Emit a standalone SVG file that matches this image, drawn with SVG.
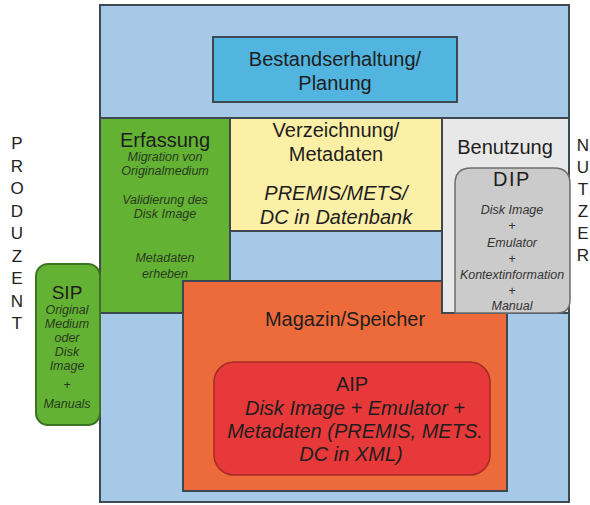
<svg xmlns="http://www.w3.org/2000/svg" width="590" height="505" viewBox="0 0 590 505">
<style>
text{font-family:"Liberation Sans",Arial,sans-serif;fill:#1e1e1e;text-anchor:middle}
.lbl{font-size:20px}
.it{font-style:italic}
.sm{font-size:12.5px;font-style:italic;fill:#2a3a20}
.dsm{font-size:12.5px;font-style:italic;fill:#333}
.side{font-size:17px;fill:#222}
.box{stroke:#3d4850;stroke-width:2}
</style>
<rect width="590" height="505" fill="#ffffff"/>
<g id="outer"><rect class="box" x="100" y="5" width="469" height="497" fill="#a6c9e8"/></g>
<g id="bestandserhaltung">
<rect class="box" x="213" y="37" width="244" height="65" fill="#52b5df"/>
<text class="lbl" x="335" y="66">Bestandserhaltung/</text>
<text class="lbl" x="335" y="90">Planung</text>
</g>
<g id="erfassung">
<rect class="box" x="100" y="118" width="130" height="195" fill="#63b233"/>
<text class="lbl" x="165" y="147">Erfassung</text>
<text class="sm" x="165" y="161">Migration von</text>
<text class="sm" x="165" y="175">Originalmedium</text>
<text class="sm" x="165" y="204">Validierung des</text>
<text class="sm" x="165" y="218">Disk Image</text>
<text class="sm" x="165" y="262">Metadaten</text>
<text class="sm" x="165" y="278">erheben</text>
</g>
<g id="verzeichnung">
<rect class="box" x="230" y="118" width="212" height="113" fill="#fcefa6"/>
<text class="lbl" x="336" y="137">Verzeichnung/</text>
<text class="lbl" x="336" y="161">Metadaten</text>
<text class="lbl it" x="336" y="200">PREMIS/METS/</text>
<text class="lbl it" x="336" y="224">DC in Datenbank</text>
</g>
<g id="magazin">
<rect class="box" x="183" y="281" width="324" height="210" fill="#ed6a3a"/>
<text class="lbl" x="345" y="326">Magazin/Speicher</text>
</g>
<g id="benutzung">
<rect class="box" x="442" y="118" width="127" height="195" fill="#e8e8e8"/>
<text class="lbl" x="505" y="154">Benutzung</text>
</g>
<g id="dip">
<path d="M455 313 V184 Q455 168 471 168 H554 Q570 168 570 184 V300 Q570 313 557 313 Z" fill="#cbcbcb" stroke="#6e6e6e" stroke-width="1.5"/>
<text class="lbl" x="512" y="186" letter-spacing="1.5">DIP</text>
<text class="dsm" x="512" y="214">Disk Image</text>
<text class="dsm" x="512" y="230">+</text>
<text class="dsm" x="512" y="247">Emulator</text>
<text class="dsm" x="512" y="263">+</text>
<text class="dsm" x="512" y="279">Kontextinformation</text>
<text class="dsm" x="512" y="295">+</text>
<text class="dsm" x="512" y="310">Manual</text>
</g>
<g id="aip">
<rect x="214" y="362" width="276" height="113" rx="20" fill="#e8393a" stroke="#a82a26" stroke-width="1.5"/>
<text class="lbl" x="352" y="391">AIP</text>
<text class="lbl it" x="355" y="415">Disk Image + Emulator +</text>
<text class="lbl it" x="355" y="438">Metadaten (PREMIS, METS.</text>
<text class="lbl it" x="351" y="461">DC in XML)</text>
</g>
<g id="sip">
<rect x="36" y="264" width="64" height="161" rx="12" fill="#63b233" stroke="#3b7423" stroke-width="2"/>
<text x="67" y="299" font-size="19">SIP</text>
<text class="sm" x="67" y="314">Original</text>
<text class="sm" x="67" y="328">Medium</text>
<text class="sm" x="67" y="342">oder</text>
<text class="sm" x="67" y="356">Disk</text>
<text class="sm" x="67" y="370">Image</text>
<text class="sm" x="67" y="389">+</text>
<text class="sm" x="67" y="408">Manuals</text>
</g>
<g id="produzent">
<text class="side" x="17" y="149">P</text>
<text class="side" x="17" y="171.5">R</text>
<text class="side" x="17" y="194">O</text>
<text class="side" x="17" y="216.5">D</text>
<text class="side" x="17" y="239">U</text>
<text class="side" x="17" y="261.5">Z</text>
<text class="side" x="17" y="284">E</text>
<text class="side" x="17" y="306.5">N</text>
<text class="side" x="17" y="329">T</text>
</g>
<g id="nutzer">
<text class="side" x="583" y="151">N</text>
<text class="side" x="583" y="173">U</text>
<text class="side" x="583" y="195">T</text>
<text class="side" x="583" y="217">Z</text>
<text class="side" x="583" y="239">E</text>
<text class="side" x="583" y="261">R</text>
</g>
<g id="connectors"></g>
</svg>
